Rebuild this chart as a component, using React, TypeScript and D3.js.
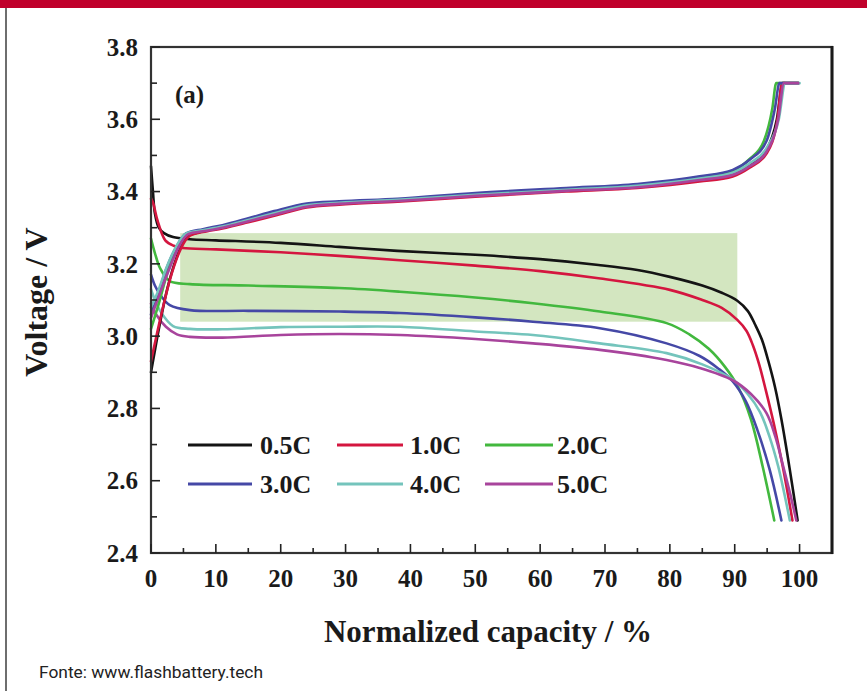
import React from "react";
import * as d3 from "d3";

const seriesNames = ["0.5C", "1.0C", "2.0C", "3.0C", "4.0C", "5.0C"];
const seriesColors = ["#141414", "#d4163f", "#42b83e", "#4548a6", "#74c4bc", "#a8449c"];

// discharge curves [capacity %, voltage V]
const discharge05: [number, number][] = [
  [0, 3.47], [0.3, 3.4], [0.6, 3.34], [1.2, 3.3], [2, 3.285], [3.4, 3.274], [6, 3.268], [10, 3.265],
  [20, 3.258], [29, 3.247], [38, 3.236], [50, 3.225], [60, 3.213], [69, 3.197], [75, 3.183], [80, 3.164],
  [85, 3.14], [88, 3.12], [90.4, 3.098], [92, 3.07], [93.2, 3.03], [94.2, 2.99], [95.2, 2.93], [96.2, 2.86],
  [97.2, 2.77], [98.5, 2.63], [99.7, 2.49],
];
const discharge10: [number, number][] = [
  [0, 3.38], [0.3, 3.37], [1, 3.32], [2.2, 3.265], [3.5, 3.25], [4.9, 3.244], [10, 3.24], [20, 3.232],
  [29, 3.222], [38.4, 3.21], [50, 3.195], [60, 3.18], [69, 3.16], [80, 3.128], [85, 3.1], [88, 3.078],
  [90.4, 3.045], [91.8, 3.015], [92.8, 2.975], [93.8, 2.92], [94.8, 2.85], [96, 2.76], [97.4, 2.64], [98.9, 2.49],
];
const discharge20: [number, number][] = [
  [0, 3.27], [0.6, 3.23], [1.4, 3.188], [2.9, 3.152], [6, 3.144], [15, 3.14], [29, 3.133], [38.4, 3.123],
  [50, 3.107], [58.9, 3.091], [69.2, 3.068], [79.5, 3.036], [83, 3.005], [86, 2.965], [88.5, 2.915],
  [90.5, 2.86], [92.5, 2.77], [94.3, 2.64], [96.1, 2.49],
];
const discharge30: [number, number][] = [
  [0, 3.17], [0.6, 3.14], [1.4, 3.115], [2.9, 3.086], [6, 3.072], [15, 3.07], [29, 3.068], [38.4, 3.064],
  [50, 3.052], [58.9, 3.04], [69.2, 3.022], [79.5, 2.98], [84.6, 2.945], [87.5, 2.91], [89.7, 2.875],
  [91.7, 2.82], [93.5, 2.74], [95.4, 2.63], [97.2, 2.49],
];
const discharge40: [number, number][] = [
  [0, 3.13], [0.6, 3.1], [1.4, 3.07], [3.4, 3.028], [6, 3.02], [11, 3.019], [20, 3.025], [29, 3.026],
  [38.4, 3.026], [50, 3.013], [58.9, 3.003], [69.2, 2.98], [79.5, 2.953], [85, 2.922], [89.7, 2.88],
  [92, 2.84], [93.9, 2.79], [95.4, 2.72], [96.7, 2.64], [97.7, 2.56], [98.5, 2.49],
];
const discharge50: [number, number][] = [
  [0, 3.09], [0.8, 3.06], [2.3, 3.026], [4, 3.005], [6, 2.998], [11, 2.996], [20, 3.003], [29, 3.006],
  [38.4, 3.003], [50, 2.992], [58.9, 2.98], [69.2, 2.962], [79.5, 2.934], [84.6, 2.912], [89.7, 2.878],
  [92.5, 2.84], [94.9, 2.787], [96.3, 2.72], [97.4, 2.645], [98.6, 2.56], [99.5, 2.49],
];

// charge curves
const charge05: [number, number][] = [
  [0, 2.9], [1, 3.0], [2.5, 3.13], [4, 3.22], [5.5, 3.275], [8, 3.29], [11, 3.3], [15, 3.318], [19, 3.337],
  [24, 3.36], [29, 3.367], [38, 3.375], [50, 3.39], [64, 3.403], [75, 3.414], [84.6, 3.432], [89.7, 3.447],
  [92.3, 3.472], [94.9, 3.515], [96.5, 3.6], [97.4, 3.7], [99.8, 3.7],
];
const charge10: [number, number][] = [
  [0, 2.93], [1.4, 3.045], [2.9, 3.155], [4.5, 3.238], [6, 3.278], [8, 3.288], [11, 3.298], [15, 3.315],
  [19, 3.333], [24, 3.356], [29, 3.364], [38, 3.372], [50, 3.386], [64, 3.4], [75, 3.41], [84.6, 3.428],
  [89.7, 3.442], [92.3, 3.466], [94.9, 3.505], [96.6, 3.6], [97.3, 3.7], [99.8, 3.7],
];
const charge20: [number, number][] = [
  [0, 3.02], [1.2, 3.09], [2.6, 3.18], [4, 3.245], [5.5, 3.282], [8, 3.292], [11, 3.303], [15, 3.32],
  [19, 3.34], [24, 3.362], [29, 3.369], [38, 3.377], [50, 3.392], [64, 3.406], [75, 3.418], [84.6, 3.44],
  [89.7, 3.458], [92.3, 3.49], [94.5, 3.54], [95.8, 3.63], [96.4, 3.7], [99.8, 3.7],
];
const charge30: [number, number][] = [
  [0, 3.06], [1, 3.11], [2.3, 3.183], [4, 3.25], [5.4, 3.284], [8, 3.296], [11, 3.307], [15, 3.326],
  [19, 3.346], [24, 3.367], [29, 3.373], [38, 3.38], [50, 3.396], [64, 3.41], [75, 3.421], [84.6, 3.442],
  [89.7, 3.46], [92.3, 3.488], [94.9, 3.54], [96.2, 3.63], [96.9, 3.7], [99.8, 3.7],
];
const charge40: [number, number][] = [
  [0, 3.08], [1, 3.12], [2.4, 3.19], [4, 3.252], [5.5, 3.285], [8, 3.293], [11, 3.303], [15, 3.321],
  [19, 3.34], [24, 3.362], [29, 3.369], [38, 3.377], [50, 3.391], [64, 3.405], [75, 3.416], [84.6, 3.436],
  [89.7, 3.452], [92.3, 3.478], [94.9, 3.52], [96.8, 3.6], [97.8, 3.7], [100, 3.7],
];
const charge50: [number, number][] = [
  [0, 3.05], [1.2, 3.11], [2.7, 3.18], [4.3, 3.248], [5.8, 3.283], [8, 3.29], [11, 3.3], [15, 3.318],
  [19, 3.336], [24, 3.358], [29, 3.366], [38, 3.374], [50, 3.388], [64, 3.402], [75, 3.412], [84.6, 3.432],
  [89.7, 3.446], [92.3, 3.47], [94.9, 3.51], [96.7, 3.6], [97.6, 3.7], [99.8, 3.7],
];

const dischargeCurves = [discharge05, discharge10, discharge20, discharge30, discharge40, discharge50];
const chargeCurves = [charge05, charge10, charge20, charge30, charge40, charge50];

const xTicks = [0, 10, 20, 30, 40, 50, 60, 70, 80, 90, 100];
const yTicks = [2.4, 2.6, 2.8, 3.0, 3.2, 3.4, 3.6, 3.8];
const shadedRange = { x0: 4.5, x1: 90.4, y0: 3.04, y1: 3.285 };

export default function App() {
  const W = 867, H = 691;
  const left = 151, right = 832, top = 47, bottom = 553;
  const x = d3.scaleLinear().domain([0, 105]).range([left, right]);
  const y = d3.scaleLinear().domain([2.4, 3.8]).range([bottom, top]);
  const dLine = d3.line<[number, number]>().x(d => x(d[0])).y(d => y(d[1])).curve(d3.curveCatmullRom.alpha(0.5));
  const cLine = d3.line<[number, number]>().x(d => x(d[0])).y(d => y(d[1])).curve(d3.curveMonotoneX);
  const serif = "'Liberation Serif', 'Times New Roman', serif";
  const minorY = d3.range(2.5, 3.8, 0.2);
  const minorX = d3.range(5, 105, 10);
  const legendCols = [[188, 252, 260], [337, 403, 410], [485, 553, 557]];
  const legendRows = [445, 484];

  return (
    <svg width={W} height={H} style={{ position: "absolute", left: 0, top: 0, background: "#fff" }}>
      <rect x={0} y={0} width={W} height={H} fill="#fff" />
      <rect x={0} y={0} width={W} height={8} fill="#c0002b" />
      <line x1={6} x2={6} y1={8} y2={H} stroke="#6e6e6e" strokeWidth={2} />

      <rect x={x(shadedRange.x0)} y={y(shadedRange.y1)} width={x(shadedRange.x1) - x(shadedRange.x0)}
        height={y(shadedRange.y0) - y(shadedRange.y1)} fill="#d3e6c0" />

      <g fill="none" strokeWidth={2.6} strokeLinejoin="round" strokeLinecap="round">
        {dischargeCurves.map((c, i) => (
          <path key={"d" + i} d={dLine(c) || ""} stroke={seriesColors[i]} />
        ))}
        {chargeCurves.map((c, i) => (
          <path key={"c" + i} d={cLine(c) || ""} stroke={seriesColors[i]} />
        ))}
      </g>

      {/* frame */}
      <rect x={left} y={top} width={right - left} height={bottom - top} fill="none" stroke="#333" strokeWidth={2.2} />
      <line x1={right} x2={right} y1={top - 1} y2={bottom + 1} stroke="#1a1a1a" strokeWidth={3} />

      {/* ticks */}
      <g stroke="#222" strokeWidth={1.6}>
        {yTicks.map(t => <line key={"yt" + t} x1={left} x2={left + 9} y1={y(t)} y2={y(t)} />)}
        {minorY.map(t => <line key={"ym" + t} x1={left} x2={left + 6} y1={y(t)} y2={y(t)} />)}
        {xTicks.map(t => <line key={"xt" + t} x1={x(t)} x2={x(t)} y1={bottom} y2={bottom - 9} />)}
        {minorX.map(t => <line key={"xm" + t} x1={x(t)} x2={x(t)} y1={bottom} y2={bottom - 5} />)}
      </g>

      <g fontFamily={serif} fontWeight="bold" fontSize={25} fill="#1a1a1a">
        {yTicks.map(t => (
          <text key={"yl" + t} x={left - 13} y={y(t)} dy="0.35em" textAnchor="end">{d3.format(".1f")(t)}</text>
        ))}
        {xTicks.map(t => (
          <text key={"xl" + t} x={x(t)} y={bottom + 34} textAnchor="middle">{t}</text>
        ))}
        <text x={175} y={103}>(a)</text>
      </g>

      <text x={488} y={642} textAnchor="middle" fontFamily={serif} fontWeight="bold" fontSize={31} fill="#1a1a1a">
        Normalized capacity / %
      </text>
      <text transform={`translate(47,302) rotate(-90)`} textAnchor="middle" fontFamily={serif} fontWeight="bold"
        fontSize={32} fill="#1a1a1a">Voltage / V</text>

      {/* legend */}
      <g>
        {seriesNames.map((n, i) => {
          const col = legendCols[i % 3];
          const ry = legendRows[Math.floor(i / 3)];
          return (
            <g key={n}>
              <line x1={col[0]} x2={col[1]} y1={ry} y2={ry} stroke={seriesColors[i]} strokeWidth={3.2} />
              <text x={col[2]} y={ry} dy="0.35em" fontFamily={serif} fontWeight="bold" fontSize={26} fill="#1a1a1a">{n}</text>
            </g>
          );
        })}
      </g>

      <text x={39} y={678} fontFamily="Roboto, 'Liberation Sans', sans-serif" fontSize={17} fill="#222"
        textLength={224} lengthAdjust="spacingAndGlyphs">Fonte: www.flashbattery.tech</text>
    </svg>
  );
}
